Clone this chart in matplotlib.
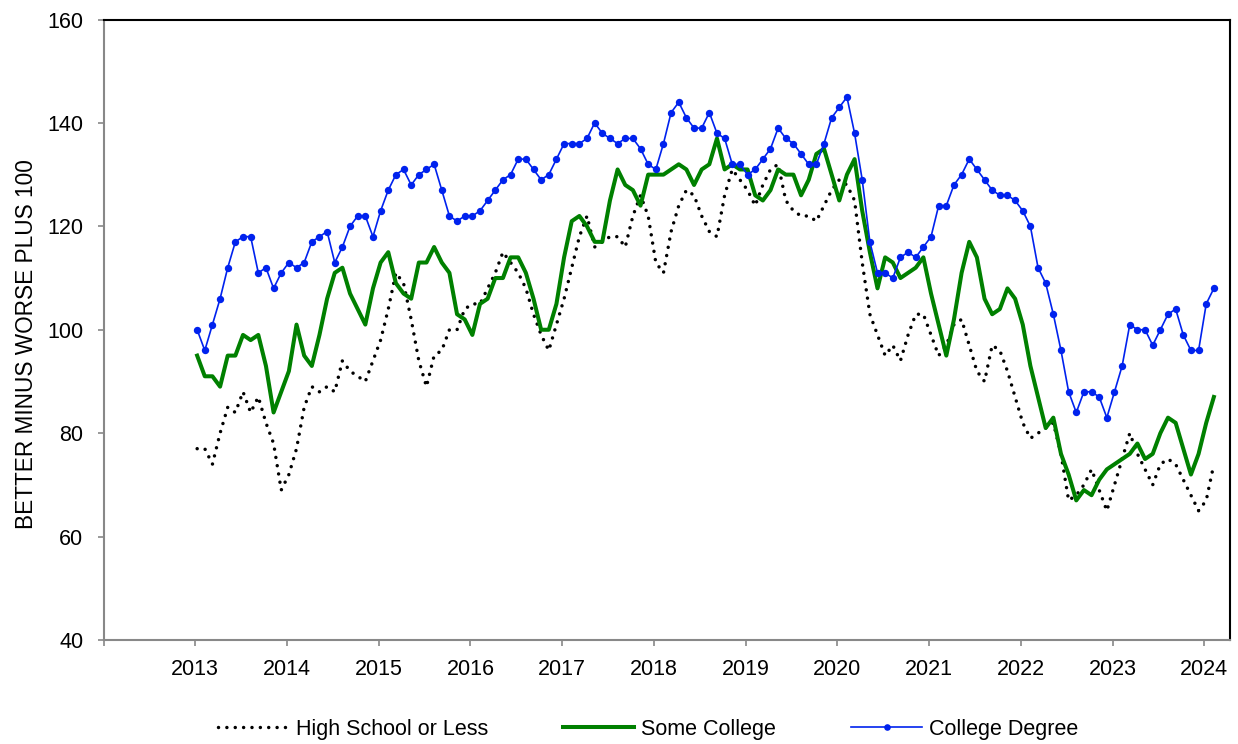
import numpy as np
import matplotlib
matplotlib.use("Agg")
import matplotlib.pyplot as plt

start_year = 2013
year_ticks = list(range(2012, 2025))
year_labels = [""] + [str(y) for y in range(2013, 2025)]
y_ticks = [40, 60, 80, 100, 120, 140, 160]

high_school = [77, 77, 74, 80, 85, 84, 88, 84, 87, 82, 78, 69,
               72, 77, 85, 89, 88, 89, 88, 94, 92, 91, 90, 94,
               98, 104, 111, 109, 102, 94, 89, 95, 96, 100, 100, 104,
               105, 105, 108, 111, 115, 113, 111, 108, 103, 99, 96, 101,
               106, 112, 118, 122, 116, 117, 118, 118, 116, 122, 126, 122,
               113, 111, 119, 124, 127, 126, 122, 119, 118, 126, 131, 129,
               127, 124, 128, 131, 132, 125, 123, 122, 122, 121, 124, 127,
               129, 128, 125, 113, 103, 99, 95, 97, 94, 99, 103, 103,
               99, 95, 97, 101, 102, 97, 92, 90, 97, 96, 92, 87,
               82, 79, 80, 81, 82, 76, 67, 68, 70, 73, 69, 65,
               70, 75, 80, 76, 73, 70, 74, 75, 74, 71, 68, 65,
               67, 74]

some_college = [95, 91, 91, 89, 95, 95, 99, 98, 99, 93, 84, 88,
                92, 101, 95, 93, 99, 106, 111, 112, 107, 104, 101, 108,
                113, 115, 109, 107, 106, 113, 113, 116, 113, 111, 103, 102,
                99, 105, 106, 110, 110, 114, 114, 111, 106, 100, 100, 105,
                114, 121, 122, 120, 117, 117, 125, 131, 128, 127, 124, 130,
                130, 130, 131, 132, 131, 128, 131, 132, 137, 131, 132, 131,
                131, 126, 125, 127, 131, 130, 130, 126, 129, 134, 135, 130,
                125, 130, 133, 123, 115, 108, 114, 113, 110, 111, 112, 114,
                107, 101, 95, 102, 111, 117, 114, 106, 103, 104, 108, 106,
                101, 93, 87, 81, 83, 76, 72, 67, 69, 68, 71, 73,
                74, 75, 76, 78, 75, 76, 80, 83, 82, 77, 72, 76,
                82, 87]

college_degree = [100, 96, 101, 106, 112, 117, 118, 118, 111, 112, 108, 111,
                  113, 112, 113, 117, 118, 119, 113, 116, 120, 122, 122, 118,
                  123, 127, 130, 131, 128, 130, 131, 132, 127, 122, 121, 122,
                  122, 123, 125, 127, 129, 130, 133, 133, 131, 129, 130, 133,
                  136, 136, 136, 137, 140, 138, 137, 136, 137, 137, 135, 132,
                  131, 136, 142, 144, 141, 139, 139, 142, 138, 137, 132, 132,
                  130, 131, 133, 135, 139, 137, 136, 134, 132, 132, 136, 141,
                  143, 145, 138, 129, 117, 111, 111, 110, 114, 115, 114, 116,
                  118, 124, 124, 128, 130, 133, 131, 129, 127, 126, 126, 125,
                  123, 120, 112, 109, 103, 96, 88, 84, 88, 88, 87, 83,
                  88, 93, 101, 100, 100, 97, 100, 103, 104, 99, 96, 96,
                  105, 108]

n = len(college_degree)
t = start_year + (np.arange(n) + 0.25) / 12.0

plt.rcParams['font.family'] = ['Liberation Sans', 'DejaVu Sans']

fig = plt.figure(figsize=(12.38, 7.44), dpi=100)
ax = fig.add_axes([103.5 / 1238, 1 - 640 / 744, (1230 - 103.5) / 1238, (640 - 19.5) / 744])

ax.plot(t, high_school, color='black', lw=2.5, linestyle=(0, (0.01, 2.4)),
        dash_capstyle='round', label='High School or Less', zorder=3)
ax.plot(t, some_college, color='#008000', lw=2.9, label='Some College', zorder=4)
ax.plot(t, college_degree, color='#0022EE', lw=1.2, marker='o', markersize=5.3,
        markeredgewidth=0, label='College Degree', zorder=5)

ax.set_xlim(2012, 2024.28)
ax.set_ylim(40, 160)
ax.set_xticks(year_ticks)
ax.set_xticklabels(year_labels)
ax.set_yticks(y_ticks)

gray = '#888888'
for s in ['left', 'bottom']:
    ax.spines[s].set_color(gray)
    ax.spines[s].set_linewidth(1.5)
for s in ['top', 'right']:
    ax.spines[s].set_color('black')
    ax.spines[s].set_linewidth(1.5)

ax.tick_params(axis='both', direction='out', length=4.5, width=1.2, color=gray,
               labelsize=15.5, labelcolor='black')
ax.tick_params(axis='x', pad=9)
ax.tick_params(axis='y', pad=10)

ax.set_ylabel('BETTER MINUS WORSE PLUS 100', fontsize=16.3)
ax.yaxis.set_label_coords(-0.058, 0.4775)

fig.legend(loc='center', bbox_to_anchor=(648 / 1238, 1 - 729 / 744), ncol=3,
           frameon=False, fontsize=15.5, handlelength=3.3, handletextpad=0.3,
           columnspacing=3.5, numpoints=1, markerscale=0.9)

fig.savefig('out.png', dpi=100)
